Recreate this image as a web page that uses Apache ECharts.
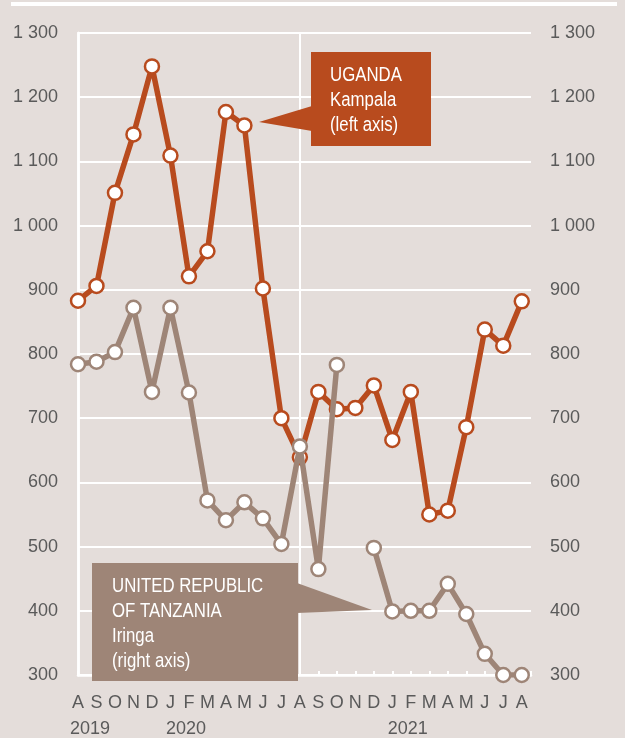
<!DOCTYPE html>
<html>
<head>
    <meta charset="utf-8">
    <title>Uganda / Tanzania</title>
    <script src="https://cdn.jsdelivr.net/npm/echarts@6/dist/echarts.min.js"></script>
    <style>
        html, body { margin: 0; padding: 0; background: #e4ddda; }
        #main { width: 625px; height: 738px; }
    </style>
</head>
<body>
<div id="main"></div>
<script>
    // months Aug 2019 .. Aug 2021
    var months = ['A','S','O','N','D','J','F','M','A','M','J','J','A','S','O','N','D','J','F','M','A','M','J','J','A'];
    var years = { 0: '2019', 5: '2020', 17: '2021' };
    // Uganda, Kampala (left axis)
    var uganda = [883, 906, 1051, 1142, 1248, 1109, 921, 960, 1177, 1156, 902, 700, 639,
                  741, 714, 716, 751, 666, 741, 550, 556, 686, 838, 813, 882];
    // United Republic of Tanzania, Iringa (right axis); Nov 2020 missing
    var tanzania = [784, 788, 803, 872, 741, 872, 740, 572, 541, 569, 544, 504, 656,
                    465, 783, null, 498, 399, 400, 400, 442, 395, 333, 300, 300];

    var font = "'Liberation Sans', Arial, sans-serif";
    var orange = '#b84b1e';
    var grey = '#9e8577';
    var labelColor = '#5a5a5a';

    function pairs(arr) {
        return arr.map(function (v, i) { return [i, v]; });
    }
    function yFmt(v) {
        if (v >= 1000) {
            var r = String(v % 1000);
            while (r.length < 3) r = '0' + r;
            return Math.floor(v / 1000) + ' ' + r;
        }
        return String(v);
    }
    function isMonth(v) {
        return v === Math.round(v) && months[v] !== undefined;
    }

    var chart = echarts.init(document.getElementById('main'));
    chart.setOption({
        backgroundColor: '#e4ddda',
        animation: false,
        grid: { left: 78, right: 94, top: 33, bottom: 61 },
        xAxis: [{
            type: 'value',
            min: 0,
            max: 24.5,
            interval: 1,
            splitLine: { show: false },
            axisLine: { show: true, lineStyle: { color: '#fff', width: 2.5 } },
            axisTick: { show: true, inside: true, length: 4, lineStyle: { color: '#fff', width: 2 } },
            axisLabel: {
                margin: 19,
                showMinLabel: true,
                color: labelColor,
                fontFamily: font,
                fontSize: 18,
                formatter: function (v) { return isMonth(v) ? months[v] : ''; }
            }
        }, {
            // year row under the month letters
            type: 'value',
            position: 'bottom',
            min: 0,
            max: 24.5,
            interval: 1,
            splitLine: { show: false },
            axisLine: { show: false },
            axisTick: { show: false },
            axisLabel: {
                margin: 45,
                showMinLabel: true,
                color: labelColor,
                fontFamily: font,
                fontSize: 18,
                formatter: function (v) {
                    if (!isMonth(v) || !years[v]) return '';
                    // year starts at the left edge of its month letter
                    return '{' + (months[v] === 'A' ? 'ya' : 'yj') + '|' + years[v] + '}';
                },
                rich: {
                    ya: { fontFamily: font, fontSize: 18, color: labelColor, padding: [0, 0, 0, 24] },
                    yj: { fontFamily: font, fontSize: 18, color: labelColor, padding: [0, 0, 0, 31] }
                }
            }
        }],
        yAxis: [{
            type: 'value',
            min: 300,
            max: 1300,
            interval: 100,
            position: 'left',
            axisLine: { show: true, lineStyle: { color: '#fff', width: 2.5 } },
            axisTick: { show: false },
            splitLine: { show: true, lineStyle: { color: '#fff', width: 2 } },
            axisLabel: { margin: 20, color: labelColor, fontFamily: font, fontSize: 18, formatter: yFmt }
        }, {
            type: 'value',
            min: 300,
            max: 1300,
            interval: 100,
            position: 'right',
            axisLine: { show: true, lineStyle: { color: '#fff', width: 2.5 } },
            axisTick: { show: false },
            splitLine: { show: false },
            axisLabel: { margin: 19, color: labelColor, fontFamily: font, fontSize: 18, align: 'left', formatter: yFmt }
        }],
        series: [{
            name: 'Uganda',
            type: 'line',
            xAxisIndex: 0,
            yAxisIndex: 0,
            data: pairs(uganda),
            z: 3,
            symbol: 'circle',
            symbolSize: 14,
            lineStyle: { color: orange, width: 5.5 },
            itemStyle: { color: '#fff', borderColor: orange, borderWidth: 2.5 },
            markLine: {
                silent: true,
                z: 1,
                symbol: 'none',
                label: { show: false },
                lineStyle: { color: '#fff', width: 2, type: 'solid' },
                data: [{ xAxis: 12 }]
            }
        }, {
            name: 'Tanzania',
            type: 'line',
            xAxisIndex: 0,
            yAxisIndex: 1,
            data: pairs(tanzania),
            z: 4,
            symbol: 'circle',
            symbolSize: 14,
            connectNulls: false,
            lineStyle: { color: grey, width: 5.5 },
            itemStyle: { color: '#fff', borderColor: grey, borderWidth: 2.5 }
        }],
        graphic: [
            { type: 'rect', shape: { x: 11, y: 2, width: 606, height: 4 }, style: { fill: '#fff' }, z: 10 },
            // Uganda callout
            { type: 'polygon', shape: { points: [[259, 122], [312, 106], [312, 131]] }, style: { fill: orange }, z: 10 },
            { type: 'rect', shape: { x: 311, y: 52, width: 120, height: 94 }, style: { fill: orange }, z: 10 },
            { type: 'text', x: 330, y: 63, z: 11, scaleX: 0.84,
              style: { text: 'UGANDA\nKampala\n(left axis)', fill: '#fff', font: '20px ' + font, lineHeight: 25 } },
            // Tanzania callout
            { type: 'polygon', shape: { points: [[297, 583], [372, 610], [297, 613]] }, style: { fill: grey }, z: 10 },
            { type: 'rect', shape: { x: 92, y: 563, width: 206, height: 118 }, style: { fill: grey }, z: 10 },
            { type: 'text', x: 112, y: 574, z: 11, scaleX: 0.84,
              style: { text: 'UNITED REPUBLIC\nOF TANZANIA\nIringa\n(right axis)', fill: '#fff', font: '20px ' + font, lineHeight: 25 } }
        ]
    });
</script>
</body>
</html>
